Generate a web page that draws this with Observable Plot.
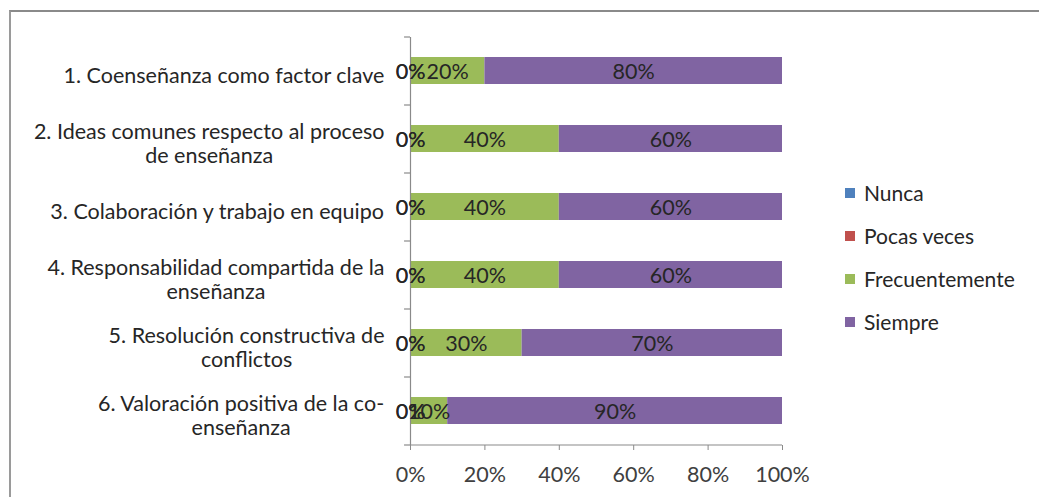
<!DOCTYPE html>
<html>
<head>
<meta charset="utf-8">
<script src="https://cdn.jsdelivr.net/npm/d3@7"></script>
<script src="https://cdn.jsdelivr.net/npm/@observablehq/plot@0.6"></script>
<style>
  html, body { margin: 0; padding: 0; background: #fff; }
  #wrap { position: relative; width: 1039px; height: 497px; overflow: hidden; font-family: Lato, "Open Sans", sans-serif; }
  #frame { position: absolute; left: 9px; top: 10px; width: 1100px; height: 600px; border-top: 2px solid #8a8a8a; border-left: 2px solid #9a9a9a; box-sizing: border-box; }
  #legend { position: absolute; left: 845px; top: 171px; font-size: 21px; color: #262626; }
  #legend .item { display: flex; align-items: center; height: 43px; }
  #legend .sw { width: 10px; height: 10px; margin-right: 9px; }
</style>
</head>
<body>
<div id="wrap">
  <div id="frame"></div>
  <div id="chart" style="position:absolute;left:0;top:0;"></div>
  <div id="legend"></div>
</div>
<script>
const categories = [
  "1. Coenseñanza como factor clave",
  "2. Ideas comunes respecto al proceso\nde enseñanza",
  "3. Colaboración y trabajo en equipo",
  "4. Responsabilidad compartida de la\nenseñanza",
  "5. Resolución constructiva de\nconflictos",
  "6. Valoración positiva de la co-\nenseñanza"
];
const seriesNames = ["Nunca", "Pocas veces", "Frecuentemente", "Siempre"];
const seriesColors = ["#4f81bd", "#c0504d", "#9bbb59", "#8064a2"];
const nunca = [0, 0, 0, 0, 0, 0];
const pocasVeces = [0, 0, 0, 0, 0, 0];
const frecuentemente = [20, 40, 40, 40, 30, 10];
const siempre = [80, 60, 60, 60, 70, 90];
const xTicks = [0, 20, 40, 60, 80, 100];

const seriesValues = [nunca, pocasVeces, frecuentemente, siempre];
const data = [];
categories.forEach((c, i) => {
  seriesNames.forEach((s, j) => data.push({cat: c, series: s, value: seriesValues[j][i]}));
});

const FONT = 21.5;
const fontFamily = "Lato";
const canvas = document.createElement("canvas");
const ctx = canvas.getContext("2d");
ctx.font = `${FONT}px ${fontFamily}`;
const gap = 26;

const labelMarks = categories.map(c => {
  const w = d3.max(c.split("\n"), l => ctx.measureText(l).width);
  return Plot.text([c], {
    y: d => d, text: d => d, frameAnchor: "left", textAnchor: "middle",
    lineAnchor: "middle", lineHeight: 1.12, dx: -(gap + w / 2), dy: 4,
    fill: "#262626", fontSize: FONT
  });
});

const chart = Plot.plot({
  width: 1039,
  height: 497,
  marginLeft: 410,
  marginRight: 257,
  marginTop: 37,
  marginBottom: 52,
  style: {fontFamily: fontFamily, fontSize: FONT + "px", background: "transparent", color: "#404040"},
  x: {domain: [0, 100], ticks: xTicks, tickFormat: d => d + "%", label: null},
  y: {domain: categories, paddingInner: 0.6, paddingOuter: 0.3, align: 0.5, axis: null},
  color: {domain: seriesNames, range: seriesColors},
  marks: [
    Plot.barX(data, Plot.stackX({x: "value", y: "cat", fill: "series"})),
    Plot.ruleY(categories, {y: d => d, x1: -1.6, x2: 0, dy: -34, stroke: "#8a8a8a", strokeWidth: 1.2}),
    Plot.ruleY(categories.slice(-1), {y: d => d, x1: -1.6, x2: 0, dy: 34, stroke: "#8a8a8a", strokeWidth: 1.2}),
    Plot.ruleX([0], {stroke: "#8a8a8a", strokeWidth: 1.2}),
    Plot.axisX({ticks: xTicks, tickFormat: d => d + "%", tickSize: 5, tickPadding: 16, stroke: "#8a8a8a", fill: "#404040", fontSize: FONT}),
    Plot.ruleY(categories.slice(-1), {y: d => d, x1: 0, x2: 100, dy: 34, stroke: "#8a8a8a", strokeWidth: 1.2}),
    Plot.text(data, Plot.stackX({x: "value", y: "cat", z: "series", text: d => d.value + "%", fill: "#262626", fontSize: FONT, dy: 1})),
    ...labelMarks
  ]
});
document.getElementById("chart").appendChild(chart);

const legend = document.getElementById("legend");
seriesNames.forEach((s, i) => {
  const item = document.createElement("div");
  item.className = "item";
  item.innerHTML = `<span class="sw" style="background:${seriesColors[i]}"></span><span>${s}</span>`;
  legend.appendChild(item);
});
</script>
</body>
</html>
